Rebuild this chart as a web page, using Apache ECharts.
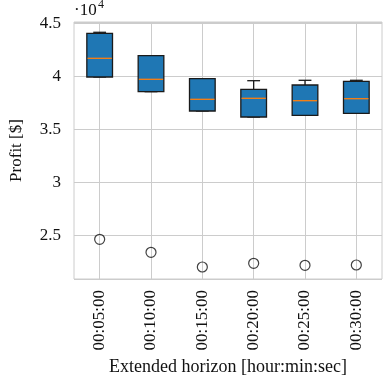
<!DOCTYPE html>
<html>
<head>
<meta charset="utf-8">
<script src="https://cdn.jsdelivr.net/npm/echarts@6/dist/echarts.min.js"></script>
<style>html,body{margin:0;padding:0;background:#fff}#c{width:383px;height:383px}</style>
</head>
<body>
<div id="c"></div>
<script>
const categories = ['00:05:00','00:10:00','00:15:00','00:20:00','00:25:00','00:30:00'];
const whiskerLow = [39950, 38560, 36735, 36168, 36328, 36518];
const q1 = [39950, 38560, 36735, 36168, 36328, 36518];
const median = [41718, 39733, 37841, 37936, 37709, 37898];
const q3 = [44082, 41964, 39789, 38787, 39193, 39543];
const whiskerHigh = [44177, 41964, 39789, 39600, 39638, 39638];
const outliers = [24604, 23375, 21985, 22334, 22145, 22174];
const yTicks = [25000, 30000, 35000, 40000, 45000];

const FONT = 'Liberation Serif';
const boxData = categories.map((c, i) => [i, whiskerLow[i], q1[i], median[i], q3[i], whiskerHigh[i]]);
const outData = outliers.map((v, i) => [i, v]);

const chart = echarts.init(document.getElementById('c'), null, {renderer: 'canvas'});
chart.setOption({
  animation: false,
  backgroundColor: '#ffffff',
  grid: {left: 73, right: 1, top: 22, bottom: 104, show: true, borderColor: '#cccccc', borderWidth: 1},
  xAxis: {
    type: 'category', data: categories,
    axisLine: {show: false}, axisTick: {show: false},
    splitLine: {show: true, alignWithLabel: true, lineStyle: {color: '#cccccc', width: 1}},
    axisLabel: {rotate: 90, margin: 11, fontFamily: FONT, fontSize: 17, color: '#111'},
    name: 'Extended horizon [hour:min:sec]', nameLocation: 'middle', nameGap: 78,
    nameTextStyle: {fontFamily: FONT, fontSize: 18, color: '#111'}
  },
  yAxis: {
    type: 'value', min: 20850, max: 45150,
    axisLine: {show: false}, axisTick: {show: false},
    splitLine: {show: true, lineStyle: {color: '#cccccc', width: 1}},
    axisLabel: {margin: 13, fontFamily: FONT, fontSize: 17, color: '#111', showMinLabel: false, showMaxLabel: false,
      formatter: v => yTicks.indexOf(v) >= 0 ? String(v / 10000) : ''},
    name: 'Profit [$]', nameLocation: 'middle', nameGap: 49,
    nameTextStyle: {fontFamily: FONT, fontSize: 17, color: '#111'}
  },
  graphic: [
    {type: 'text', left: 74, top: 2, style: {text: '·10', font: '17px "Liberation Serif"', fill: '#111'}},
    {type: 'text', left: 98, top: -1, style: {text: '4', font: '12px "Liberation Serif"', fill: '#111'}}
  ],
  series: [
    {
      type: 'custom',
      data: boxData,
      encode: {x: 0, y: [1, 2, 3, 4, 5]},
      renderItem: function (params, api) {
        const idx = api.value(0);
        const band = api.size([1, 0])[0];
        const bw = band * 0.5;
        const cw = bw * 0.5;
        const pLow = api.coord([idx, api.value(1)]);
        const pQ1 = api.coord([idx, api.value(2)]);
        const pMed = api.coord([idx, api.value(3)]);
        const pQ3 = api.coord([idx, api.value(4)]);
        const pHigh = api.coord([idx, api.value(5)]);
        const x = pQ1[0];
        const dark = '#1a1a1a';
        return {
          type: 'group',
          children: [
            {type: 'line', shape: {x1: x, y1: pQ1[1], x2: x, y2: pLow[1]}, style: {stroke: dark, lineWidth: 1.3}},
            {type: 'line', shape: {x1: x, y1: pQ3[1], x2: x, y2: pHigh[1]}, style: {stroke: dark, lineWidth: 1.3}},
            {type: 'line', shape: {x1: x - cw / 2, y1: pLow[1], x2: x + cw / 2, y2: pLow[1]}, style: {stroke: dark, lineWidth: 1.3}},
            {type: 'line', shape: {x1: x - cw / 2, y1: pHigh[1], x2: x + cw / 2, y2: pHigh[1]}, style: {stroke: dark, lineWidth: 1.3}},
            {type: 'rect', shape: {x: x - bw / 2, y: pQ3[1], width: bw, height: pQ1[1] - pQ3[1]},
              style: {fill: '#1f77b4', stroke: dark, lineWidth: 1.3}},
            {type: 'line', shape: {x1: x - bw / 2 + 0.7, y1: pMed[1], x2: x + bw / 2 - 0.7, y2: pMed[1]}, style: {stroke: '#ff7f0e', lineWidth: 1.3}}
          ]
        };
      },
      z: 3
    },
    {
      type: 'scatter', data: outData, symbol: 'circle', symbolSize: 10,
      itemStyle: {color: 'rgba(255,255,255,0)', borderColor: '#111', borderWidth: 1.2}, z: 4
    }
  ]
});
</script>
</body>
</html>
